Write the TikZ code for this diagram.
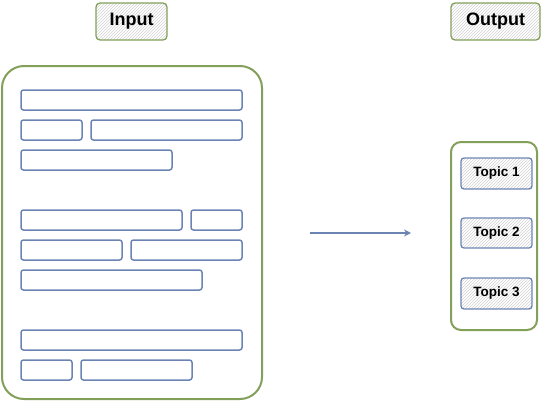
\documentclass[tikz,border=0pt]{standalone}
\usepackage{fontspec}
\setmainfont{Liberation Sans}
\usetikzlibrary{patterns,arrows.meta}
\definecolor{grn}{HTML}{82A05A}
\definecolor{blu}{HTML}{6C84B4}
\begin{document}
\begin{tikzpicture}[x=1pt,y=-1pt,
  bar/.style={draw=blu,line width=1.5pt,rounded corners=2.5pt},
  label/.style={draw=grn,line width=1.3pt,rounded corners=4pt,pattern=north east lines,pattern color=gray!35},
  topic/.style={draw=blu,line width=1.3pt,rounded corners=3pt,pattern=north east lines,pattern color=gray!35},
  big/.style={font=\bfseries\fontsize{18}{21}\selectfont},
  small/.style={font=\bfseries\fontsize{13.5}{16}\selectfont}]
\useasboundingbox (0,0) rectangle (542,402);
% labels
\draw[label] (96,3) rectangle (167,40);
\node[big] (inlab) at (131.5,21.5) {Input};
\draw[label] (451,3) rectangle (540,40);
\node[big] (outlab) at (495.5,21.5) {Output};
% input box
\draw[draw=grn,line width=2pt,rounded corners=22pt] (2,66) rectangle (262,399);
\draw[bar] (21,90) rectangle (242,110);
\draw[bar] (21,120) rectangle (82,140);
\draw[bar] (91,120) rectangle (242,140);
\draw[bar] (21,150) rectangle (172,170);
\draw[bar] (21,210) rectangle (182,230);
\draw[bar] (191,210) rectangle (242,230);
\draw[bar] (21,240) rectangle (122,260);
\draw[bar] (131,240) rectangle (242,260);
\draw[bar] (21,270) rectangle (202,290);
\draw[bar] (21,330) rectangle (242,350);
\draw[bar] (21,360) rectangle (72,380);
\draw[bar] (81,360) rectangle (192,380);
% arrow
\coordinate (a1) at (310,233);
\coordinate (a2) at (411,233);
\draw[blu,line width=1.5pt,-{Stealth[open,length=7pt,width=7pt]}] (a1) -- (a2);
% output box
\draw[draw=grn,line width=2pt,rounded corners=10pt] (451,142) rectangle (537,330);
\draw[topic] (461,158) rectangle (532,189);
\node[small] (t1) at (496.5,173.5) {Topic 1};
\draw[topic] (461,218) rectangle (532,248);
\node[small] (t2) at (496.5,233) {Topic 2};
\draw[topic] (461,278) rectangle (532,309);
\node[small] (t3) at (496.5,293.5) {Topic 3};
\end{tikzpicture}
\end{document}
